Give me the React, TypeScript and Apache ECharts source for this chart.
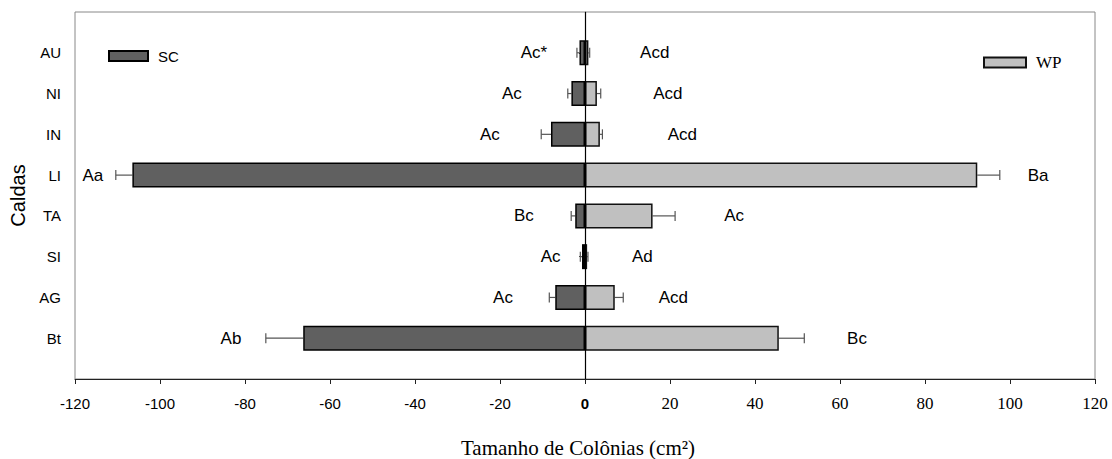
import React, { useEffect, useRef } from "react";
import * as echarts from "echarts";

const categories = ["AU", "NI", "IN", "LI", "TA", "SI", "AG", "Bt"];
const scMeans = [-1.3, -3.2, -8.0, -106.5, -2.3, -0.7, -7.0, -66.3];
const scErr = [0.6, 0.85, 2.3, 3.9, 0.95, 0.4, 1.4, 8.8];
const wpMeans = [0.8, 2.8, 3.5, 92.3, 15.9, 0.5, 7.0, 45.6];
const wpErr = [0.3, 0.9, 0.6, 5.3, 5.3, 0.2, 2.0, 6.0];
const scLetters = ["Ac*", "Ac", "Ac", "Aa", "Bc", "Ac", "Ac", "Ab"];
const wpLetters = ["Acd", "Acd", "Acd", "Ba", "Ac", "Ad", "Acd", "Bc"];
const scLetterAt = [-12.0, -17.2, -22.4, -115.8, -14.4, -8.1, -19.3, -83.3];
const wpLetterAt = [16.4, 19.5, 22.9, 106.6, 35.1, 13.5, 20.8, 64.0];
const xTicks = { min: -120, max: 120, interval: 20 };

const SANS = "Liberation Sans, Arial, sans-serif";
const SERIF = "Liberation Serif, Times New Roman, serif";

const yCats = ["", ...categories, ""];

export default function App() {
  const ref = useRef<HTMLDivElement>(null);
  useEffect(() => {
    if (!ref.current) return;
    const chart = echarts.init(ref.current, null, { renderer: "svg" });

    const errData = (means: number[], errs: number[]) =>
      means.map((m, i) => [m, m < 0 ? m - errs[i] : m + errs[i], i + 1]);

    const errRender = (params: any, api: any) => {
      const p0 = api.coord([api.value(0), api.value(2)]);
      const p1 = api.coord([api.value(1), api.value(2)]);
      const style = { stroke: "#555", lineWidth: 1.2 };
      return {
        type: "group",
        children: [
          { type: "line", shape: { x1: p0[0], y1: p0[1], x2: p1[0], y2: p1[1] }, style },
          { type: "line", shape: { x1: p1[0], y1: p1[1] - 5, x2: p1[0], y2: p1[1] + 5 }, style },
        ],
      };
    };

    const labelData = (xs: number[], texts: string[]) =>
      xs.map((x, i) => ({ value: [x, i + 1], text: texts[i] }));

    const labelRender = (texts: string[]) => (params: any, api: any) => {
      const p = api.coord([api.value(0), api.value(1)]);
      return {
        type: "text",
        x: p[0],
        y: p[1],
        style: {
          text: texts[params.dataIndex],
          textAlign: "center",
          textVerticalAlign: "middle",
          fontFamily: SANS,
          fontSize: 17,
          fill: "#000",
        },
      };
    };

    const baseX = {
      type: "value",
      min: xTicks.min,
      max: xTicks.max,
      interval: xTicks.interval,
      position: "bottom",
      splitLine: { show: false },
    };

    chart.setOption({
      animation: false,
      grid: {
        left: 75,
        right: 17,
        top: 12,
        bottom: 80,
        show: true,
        borderColor: "#888",
        borderWidth: 1,
        outerBoundsMode: "none",
        containLabel: false,
      },
      legend: [
        {
          data: ["SC"],
          left: 108,
          top: 48,
          padding: 0,
          itemWidth: 39,
          itemHeight: 10,
          icon: "rect",
          selectedMode: false,
          textStyle: { fontFamily: SANS, fontSize: 15, color: "#000", lineHeight: 16, padding: [0, 0, 0, 5] },
        },
        {
          data: ["WP"],
          left: 983,
          top: 54,
          padding: 0,
          itemWidth: 42,
          itemHeight: 10,
          icon: "rect",
          selectedMode: false,
          textStyle: { fontFamily: SERIF, fontSize: 17, color: "#000", lineHeight: 16, padding: [0, 0, 0, 5] },
        },
      ],
      xAxis: [
        {
          ...baseX,
          axisLine: { show: true, lineStyle: { color: "#222", width: 1 } },
          axisTick: { show: true, inside: false, length: 5, lineStyle: { color: "#222" } },
          axisLabel: {
            margin: 17,
            fontFamily: SANS,
            fontSize: 15,
            color: "#000",
            formatter: (v: number) => (v < 0 ? String(v) : v === 0 ? "{z|0}" : ""),
            rich: {
              z: { fontFamily: SANS, fontSize: 15, fontWeight: "bold", color: "#000" },
            },
          },
          name: "Tamanho de Colônias (cm²)",
          nameLocation: "middle",
          nameGap: 58,
          nameTextStyle: { fontFamily: SERIF, fontSize: 21, color: "#000", lineHeight: 22, padding: [0, 14, 0, 0] },
        },
        {
          ...baseX,
          axisLine: { show: false },
          axisTick: { show: false },
          axisLabel: {
            margin: 16,
            fontFamily: SERIF,
            fontSize: 17,
            color: "#000",
            formatter: (v: number) => (v > 0 ? String(v) : ""),
          },
        },
      ],
      yAxis: {
        type: "category",
        data: yCats,
        inverse: true,
        boundaryGap: false,
        axisLine: { show: true, lineStyle: { color: "#777", width: 1 } },
        axisTick: {
          show: true,
          length: 6,
          interval: (index: number) => index > 0 && index < yCats.length - 1,
          lineStyle: { color: "#444" },
        },
        axisLabel: { interval: 0, margin: 14, fontFamily: SANS, fontSize: 15, color: "#000" },
        splitLine: { show: false },
        name: "Caldas",
        nameLocation: "middle",
        nameRotate: 90,
        nameGap: 44,
        nameTextStyle: { fontFamily: SANS, fontSize: 20, fontWeight: "normal", color: "#000" },
      },
      series: [
        {
          name: "SC",
          type: "bar",
          data: [null, ...scMeans, null],
          barWidth: 25,
          barGap: "-100%",
          itemStyle: { color: "#606060", borderColor: "#000", borderWidth: 1.5 },
        },
        {
          name: "WP",
          type: "bar",
          data: [null, ...wpMeans, null],
          barWidth: 25,
          barGap: "-100%",
          itemStyle: { color: "#c0c0c0", borderColor: "#111", borderWidth: 1.5 },
          markLine: {
            silent: true,
            symbol: "none",
            label: { show: false },
            lineStyle: { color: "#000", type: "solid", width: 1.2 },
            data: [{ xAxis: 0 }],
          },
        },
        {
          type: "custom",
          renderItem: errRender,
          data: errData(scMeans, scErr),
          encode: { x: [0, 1], y: 2 },
          z: 1,
        },
        {
          type: "custom",
          renderItem: errRender,
          data: errData(wpMeans, wpErr),
          encode: { x: [0, 1], y: 2 },
          z: 1,
        },
        {
          type: "custom",
          renderItem: labelRender(scLetters),
          data: labelData(scLetterAt, scLetters),
          encode: { x: 0, y: 1 },
        },
        {
          type: "custom",
          renderItem: labelRender(wpLetters),
          data: labelData(wpLetterAt, wpLetters),
          encode: { x: 0, y: 1 },
        },
      ],
    });
    return () => chart.dispose();
  }, []);
  return (
    <div
      ref={ref}
      style={{ position: "absolute", left: 0, top: 0, width: 1112, height: 459 }}
    />
  );
}
